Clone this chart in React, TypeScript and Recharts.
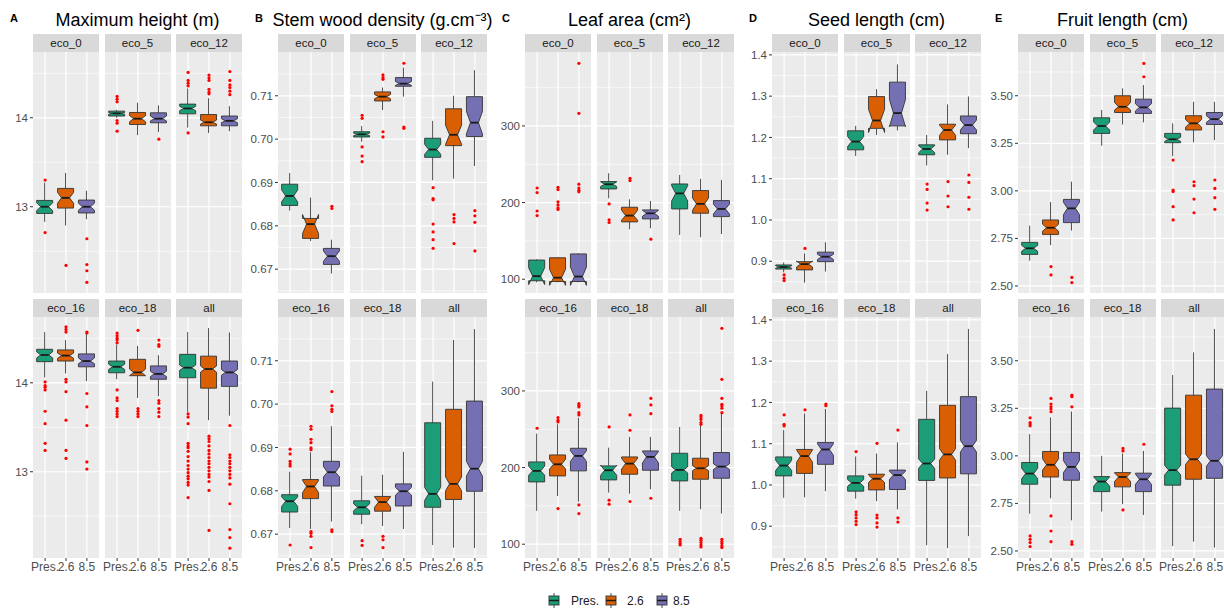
import { ComposedChart, Bar, Scatter, XAxis, YAxis, CartesianGrid } from "recharts";

const facets = ["eco_0", "eco_5", "eco_12", "eco_16", "eco_18", "all"];
const scenarios = ["Pres.", "2.6", "8.5"];
const colors = ["#1B9E77", "#D95F02", "#7570B3"];

// each box: [lower whisker, q1, median, q3, upper whisker, notch low, notch high]
const heightBoxes = [
  [[12.83, 12.925, 13.0, 13.071, 13.27, 12.955, 13.045], [12.79, 12.985, 13.1, 13.206, 13.38, 13.04, 13.16], [12.86, 12.93, 13.0, 13.075, 13.18, 12.96, 13.04]],
  [[14.0, 14.02, 14.05, 14.075, 14.09, 14.04, 14.06], [13.805, 13.925, 13.99, 14.06, 14.17, 13.955, 14.025], [13.84, 13.944, 13.99, 14.056, 14.14, 13.965, 14.02]],
  [[13.89, 14.045, 14.105, 14.154, 14.33, 14.08, 14.13], [13.83, 13.91, 13.95, 14.037, 14.22, 13.93, 13.975], [13.85, 13.91, 13.966, 14.02, 14.13, 13.945, 13.99]],
  [[14.06, 14.238, 14.313, 14.377, 14.57, 14.28, 14.35], [14.106, 14.245, 14.306, 14.37, 14.48, 14.275, 14.335], [14.02, 14.18, 14.245, 14.325, 14.566, 14.215, 14.28]],
  [[14.04, 14.113, 14.18, 14.245, 14.43, 14.15, 14.21], [13.83, 14.08, 14.117, 14.264, 14.415, 14.08, 14.155], [13.85, 14.04, 14.1, 14.19, 14.31, 14.07, 14.13]],
  [[13.67, 14.057, 14.17, 14.32, 14.57, 14.14, 14.2], [13.58, 13.94, 14.155, 14.3, 14.615, 14.12, 14.19], [13.63, 13.96, 14.117, 14.245, 14.566, 14.085, 14.15]],
];
const heightOutliers = [
  [[13.3, 12.71], [12.34], [12.64, 12.35, 12.28, 12.15]],
  [[14.24, 14.21, 14.18, 13.97, 13.94, 13.85], [], [13.76]],
  [[14.51, 14.42, 14.39, 14.36, 13.83], [14.48, 14.45, 14.42, 14.32, 14.29, 14.27], [14.52, 14.42, 14.37, 14.34, 14.3, 14.26]],
  [[14.01, 13.97, 13.95, 13.92, 13.68, 13.54, 13.32, 13.24], [14.63, 14.6, 14.57, 14.04, 14.01, 13.9, 13.58, 13.24, 13.15], [14.57, 14.56, 13.88, 13.73, 13.52, 13.11, 13.03]],
  [[14.56, 14.53, 14.5, 14.48, 14.45, 13.92, 13.83, 13.8, 13.71, 13.68, 13.65, 13.62], [14.59, 13.71, 13.68, 13.65, 13.62], [14.48, 14.43, 14.41, 13.8, 13.77, 13.71, 13.67, 13.62]],
  [
    [13.65, 13.615, 13.54, 13.32, 13.29, 13.27, 13.23, 13.17, 13.12, 13.07, 13.03, 12.99, 12.95, 12.92, 12.88, 12.85, 12.71],
    [13.4, 13.37, 13.34, 13.29, 13.24, 13.2, 13.16, 13.12, 13.09, 13.05, 13.01, 12.97, 12.94, 12.89, 12.79, 12.34],
    [13.52, 13.19, 13.16, 13.12, 13.09, 13.05, 13.01, 12.97, 12.93, 12.86, 12.64, 12.35, 12.26, 12.14],
  ],
];

const densityBoxes = [
  [[0.6835, 0.6847, 0.6869, 0.6896, 0.6922, 0.6855, 0.6883], [0.6765, 0.6771, 0.6804, 0.6817, 0.6865, 0.6782, 0.6826], [0.669, 0.6711, 0.673, 0.6748, 0.6768, 0.6718, 0.6742]],
  [[0.6994, 0.7005, 0.7011, 0.7017, 0.703, 0.7008, 0.7014], [0.7067, 0.7088, 0.7098, 0.7109, 0.7119, 0.7093, 0.7103], [0.7098, 0.7122, 0.7128, 0.7142, 0.7165, 0.7124, 0.7133]],
  [[0.6905, 0.6958, 0.6976, 0.7002, 0.7042, 0.6965, 0.6988], [0.6909, 0.6985, 0.701, 0.707, 0.71, 0.6988, 0.7032], [0.6938, 0.7006, 0.7038, 0.7098, 0.7159, 0.7012, 0.7064]],
  [[0.6714, 0.6751, 0.6776, 0.6791, 0.6844, 0.6764, 0.6786], [0.6712, 0.6782, 0.681, 0.6826, 0.6889, 0.6796, 0.6824], [0.6729, 0.6811, 0.6843, 0.6868, 0.6949, 0.6832, 0.6856]],
  [[0.6723, 0.6746, 0.6762, 0.6777, 0.6835, 0.6754, 0.677], [0.6719, 0.6753, 0.6774, 0.6787, 0.6837, 0.6762, 0.6786], [0.6712, 0.6765, 0.6799, 0.6816, 0.689, 0.679, 0.6808]],
  [[0.6675, 0.6762, 0.6793, 0.6957, 0.7052, 0.6778, 0.6808], [0.6669, 0.678, 0.6816, 0.6988, 0.7148, 0.68, 0.6832], [0.6668, 0.6799, 0.6851, 0.7007, 0.7173, 0.6834, 0.6868]],
];
const densityOutliers = [
  [[], [], [0.6845, 0.684]],
  [[0.7055, 0.7048, 0.6982, 0.6961, 0.6948], [0.7148, 0.7142, 0.7138, 0.7017, 0.7005], [0.7175, 0.7028, 0.7025]],
  [[0.6888, 0.6863, 0.686, 0.6804, 0.6786, 0.6768, 0.6748], [0.6826, 0.6817, 0.6809, 0.6759], [0.6835, 0.6823, 0.6808, 0.6742]],
  [[0.6896, 0.6885, 0.6868, 0.6862, 0.6857, 0.6675], [0.6949, 0.6942, 0.6919, 0.6911, 0.6899, 0.6895, 0.6706, 0.6702, 0.6695, 0.6669], [0.7029, 0.6996, 0.6988, 0.6983, 0.671, 0.6706]],
  [[0.6685, 0.6674], [0.6695, 0.6687, 0.6669], []],
  [[], [], []],
];

const leafBoxes = [
  [[96, 98, 104, 125, 126, 93, 115], [96, 97, 102, 128, 129, 92, 113], [96, 97, 103.5, 133, 134, 92, 116]],
  [[205.7, 217.8, 223.9, 227.4, 238.3, 221, 227], [165.2, 174.8, 183, 193.9, 204.3, 177, 190], [166.5, 178.7, 186, 190.4, 202.2, 182, 190]],
  [[157.8, 191.7, 212, 224.3, 236, 202, 222], [154.8, 186.1, 198.3, 215.7, 230.9, 190, 206], [159, 181.7, 191.7, 202.6, 229.6, 185, 198]],
  [[143.5, 181.3, 195.7, 207.4, 244.3, 190, 202], [163, 189.1, 204.3, 216.5, 256.5, 198, 211], [155.7, 195.7, 215.2, 225.2, 265, 208, 222]],
  [[167.4, 183.9, 196.5, 202.2, 226, 190, 203], [166, 191.3, 205.2, 213.9, 240, 198, 212], [171.7, 196.5, 213.9, 221.7, 240, 206, 221]],
  [[143.5, 182.6, 197, 218.7, 253, 193, 201], [145.7, 184.8, 199.1, 212.2, 264.3, 196, 202.5], [140, 186.1, 201.3, 219.6, 270.4, 197.5, 205]],
];
const leafOutliers = [
  [[219, 213, 189, 183], [220, 217, 201, 197, 193, 191], [381.7, 316.5, 224, 219, 216, 214]],
  [[198.3, 177.4, 174], [231.7, 228.7], [152.2]],
  [[], [], []],
  [[251.3], [265.2, 261.7, 259.6, 146.5], [283.5, 281.3, 279.1, 271.7, 268.7, 151.3, 140]],
  [[253, 157.4, 152.2], [268.7, 248.7, 155.7], [290.4, 281.7, 270.4, 160]],
  [[106.5, 103.5, 100.9, 99.1], [268, 266, 263, 258.7, 256.5, 107.8, 105.2, 102.2, 99.1, 96.5], [381.7, 315.2, 290.4, 282.6, 280.4, 277.4, 271.7, 106.5, 103.5, 100.9, 97.8, 95.6]],
];

const seedBoxes = [
  [[0.873, 0.881, 0.886, 0.891, 0.897, 0.883, 0.889], [0.848, 0.879, 0.893, 0.899, 0.919, 0.886, 0.9005], [0.875, 0.899, 0.911, 0.922, 0.946, 0.904, 0.917]],
  [[1.155, 1.17, 1.19, 1.216, 1.228, 1.178, 1.202], [1.206, 1.222, 1.241, 1.299, 1.317, 1.212, 1.268], [1.217, 1.228, 1.259, 1.334, 1.377, 1.226, 1.292]],
  [[1.132, 1.158, 1.172, 1.182, 1.206, 1.163, 1.18], [1.158, 1.194, 1.218, 1.232, 1.28, 1.205, 1.23], [1.174, 1.209, 1.23, 1.252, 1.299, 1.218, 1.242]],
  [[0.969, 1.022, 1.047, 1.068, 1.133, 1.035, 1.06], [0.97, 1.028, 1.07, 1.086, 1.173, 1.055, 1.085], [0.985, 1.05, 1.086, 1.103, 1.184, 1.072, 1.1]],
  [[0.967, 0.985, 1.005, 1.022, 1.069, 0.997, 1.013], [0.961, 0.988, 1.015, 1.026, 1.076, 1.006, 1.024], [0.941, 0.989, 1.024, 1.036, 1.103, 1.013, 1.033]],
  [[0.854, 1.011, 1.052, 1.159, 1.228, 1.04, 1.063], [0.847, 1.017, 1.074, 1.193, 1.317, 1.06, 1.088], [0.876, 1.027, 1.094, 1.214, 1.378, 1.08, 1.108]],
];
const seedOutliers = [
  [[0.867, 0.859, 0.853], [0.931], []],
  [[], [], []],
  [[1.087, 1.074, 1.041, 1.024], [1.093, 1.058, 1.032], [1.109, 1.091, 1.055, 1.026]],
  [[1.17, 1.147, 1.143], [1.182], [1.196, 1.192]],
  [[1.081, 0.935, 0.928, 0.92, 0.912, 0.904], [1.101, 0.927, 0.92, 0.908, 0.898], [1.133, 0.92, 0.91]],
  [[], [], []],
];

const fruitBoxes = [
  [[2.633, 2.666, 2.698, 2.729, 2.817, 2.682, 2.714], [2.715, 2.771, 2.806, 2.847, 2.941, 2.788, 2.825], [2.791, 2.833, 2.908, 2.955, 3.048, 2.875, 2.94]],
  [[3.237, 3.302, 3.341, 3.384, 3.425, 3.32, 3.362], [3.349, 3.412, 3.442, 3.5, 3.539, 3.425, 3.465], [3.36, 3.407, 3.439, 3.482, 3.556, 3.42, 3.458]],
  [[3.183, 3.253, 3.271, 3.302, 3.355, 3.26, 3.282], [3.255, 3.32, 3.355, 3.395, 3.468, 3.335, 3.375], [3.267, 3.349, 3.377, 3.412, 3.468, 3.36, 3.395]],
  [[2.696, 2.851, 2.907, 2.965, 3.114, 2.88, 2.935], [2.777, 2.889, 2.953, 3.023, 3.202, 2.925, 2.985], [2.661, 2.872, 2.942, 3.018, 3.233, 2.912, 2.975]],
  [[2.707, 2.812, 2.865, 2.891, 3.0, 2.84, 2.89], [2.746, 2.837, 2.889, 2.912, 3.012, 2.865, 2.91], [2.689, 2.812, 2.877, 2.909, 3.026, 2.85, 2.905]],
  [[2.526, 2.846, 2.925, 3.251, 3.425, 2.9, 2.95], [2.549, 2.877, 2.982, 3.319, 3.544, 2.955, 3.01], [2.518, 2.882, 2.974, 3.351, 3.667, 2.945, 3.0]],
];
const fruitOutliers = [
  [[], [2.602, 2.558], [2.545, 2.518]],
  [[], [], [3.67, 3.6]],
  [[3.162, 3.004, 2.996, 2.917, 2.847], [3.048, 3.027, 2.957, 2.885], [3.057, 3.013, 2.964, 2.903]],
  [[3.2, 3.175, 3.167, 3.158, 2.579, 2.561, 2.544, 2.523], [3.302, 3.272, 3.258, 3.246, 3.232, 2.684, 2.605, 2.549], [3.319, 3.311, 3.258, 2.549, 2.535]],
  [[], [3.039, 3.026, 2.716], [3.061]],
  [[], [], []],
];

const panels = [
  { letter: "A", title: "Maximum height (m)", boxes: heightBoxes, outliers: heightOutliers, domain: [12.03, 14.74], ticks: [13, 14], minor: [12.5, 13.5, 14.5], digits: 0, x0: 33 },
  { letter: "B", title: "Stem wood density (g.cm\u207B\u00B3)", boxes: densityBoxes, outliers: densityOutliers, domain: [0.6645, 0.7201], ticks: [0.67, 0.68, 0.69, 0.7, 0.71], minor: [0.665, 0.675, 0.685, 0.695, 0.705, 0.715], digits: 2, x0: 278 },
  { letter: "C", title: "Leaf area (cm\u00B2)", boxes: leafBoxes, outliers: leafOutliers, domain: [82, 396.5], ticks: [100, 200, 300], minor: [150, 250, 350], digits: 0, x0: 525 },
  { letter: "D", title: "Seed length (cm)", boxes: seedBoxes, outliers: seedOutliers, domain: [0.823, 1.407], ticks: [0.9, 1.0, 1.1, 1.2, 1.3, 1.4], minor: [0.85, 0.95, 1.05, 1.15, 1.25, 1.35], digits: 1, x0: 772 },
  { letter: "E", title: "Fruit length (cm)", boxes: fruitBoxes, outliers: fruitOutliers, domain: [2.463, 3.73], ticks: [2.5, 2.75, 3.0, 3.25, 3.5], minor: [2.625, 2.875, 3.125, 3.375, 3.625], digits: 2, x0: 1018 },
];

const FONT = '"Liberation Sans", Arial, Helvetica, sans-serif';
const PLOT_W = 66;
const PLOT_H = 241;
const PITCH = 71.5;
const YW = 40;
const ROW_Y = [52, 317];

function BoxShape(props: any) {
  const { x, y, width, height, payload } = props;
  const [lo, q1, med, q3, hi, nlo, nhi] = payload.s;
  const top = Math.min(y, y + height);
  const bot = Math.max(y, y + height);
  const py = (v: number) => bot - ((v - lo) / (hi - lo)) * (bot - top);
  const xl = x;
  const xr = x + width;
  const cx = x + width / 2;
  const ind = width * 0.25;
  const pts = [
    [xl, py(q3)], [xl, py(nhi)], [xl + ind, py(med)], [xl, py(nlo)], [xl, py(q1)],
    [xr, py(q1)], [xr, py(nlo)], [xr - ind, py(med)], [xr, py(nhi)], [xr, py(q3)],
  ].map((p) => p.join(",")).join(" ");
  return (
    <g>
      <line x1={cx} x2={cx} y1={py(hi)} y2={py(q3)} stroke="#4D4D4D" strokeWidth={1} />
      <line x1={cx} x2={cx} y1={py(q1)} y2={py(lo)} stroke="#4D4D4D" strokeWidth={1} />
      <polygon points={pts} fill={payload.color} stroke="#333333" strokeWidth={0.9} />
      <line x1={xl + ind} x2={xr - ind} y1={py(med)} y2={py(med)} stroke="#1A1A1A" strokeWidth={1.8} />
    </g>
  );
}

function Dot(props: any) {
  return <circle cx={props.cx} cy={props.cy} r={1.6} fill="#FF0000" />;
}

function Facet({ panel, f }: { panel: any; f: number }) {
  const row = f < 3 ? 0 : 1;
  const col = f % 3;
  const plotX = panel.x0 + col * PITCH;
  const plotY = ROW_Y[row];
  const yw = col === 0 ? YW : 0;
  const xh = row === 1 ? 22 : 0;
  const data = scenarios.map((sc, i) => {
    const s = panel.boxes[f][i];
    return { x: i + 1, range: [s[0], s[4]], s, color: colors[i] };
  });
  const outs: { x: number; v: number }[] = [];
  panel.outliers[f].forEach((vals: number[], i: number) => vals.forEach((v) => outs.push({ x: i + 1, v })));
  return (
    <>
      <div
        style={{
          position: "absolute", left: plotX, top: plotY - 18, width: PLOT_W, height: 18,
          background: "#D9D9D9", color: "#1A1A1A", fontSize: 11.5, lineHeight: "18px", textAlign: "center",
        }}
      >
        {facets[f]}
      </div>
      <div style={{ position: "absolute", left: plotX - yw, top: plotY }}>
        <ComposedChart width={PLOT_W + yw} height={PLOT_H + xh} data={data} margin={{ top: 0, right: 0, bottom: 0, left: 0 }}>
          <CartesianGrid fill="#EBEBEB" stroke="#FFFFFF" strokeWidth={0.6} vertical={false} horizontalValues={panel.minor} />
          <CartesianGrid stroke="#FFFFFF" strokeWidth={1.2} horizontalValues={panel.ticks} verticalValues={[1, 2, 3]} />
          <XAxis
            dataKey="x" type="number" domain={[0.42, 3.58]} allowDataOverflow ticks={[1, 2, 3]} interval={0}
            tickFormatter={(v: number) => scenarios[v - 1]} hide={row === 0} height={22}
            axisLine={false} tickSize={3} tickMargin={1} tickLine={{ stroke: "#333333" }}
            tick={{ fontSize: 12, fill: "#4D4D4D", fontFamily: FONT }}
          />
          <YAxis
            type="number" domain={panel.domain} allowDataOverflow ticks={panel.ticks} interval={0}
            tickFormatter={(v: number) => v.toFixed(panel.digits)} hide={col !== 0} width={YW}
            axisLine={false} tickSize={3} tickMargin={2} tickLine={{ stroke: "#333333" }}
            tick={{ fontSize: 11.5, fill: "#4D4D4D", fontFamily: FONT }}
          />
          {outs.length > 0 && <Scatter data={outs} dataKey="v" shape={Dot} isAnimationActive={false} />}
          <Bar dataKey="range" barSize={16} shape={BoxShape} isAnimationActive={false} />
        </ComposedChart>
      </div>
    </>
  );
}

function Legend() {
  const items = [
    { cx: 554, tx: 571 },
    { cx: 611, tx: 627 },
    { cx: 662, tx: 673 },
  ];
  return (
    <svg style={{ position: "absolute", left: 0, top: 590 }} width={1224} height={18}>
      {items.map((it, i) => (
        <g key={i}>
          <line x1={it.cx} x2={it.cx} y1={3} y2={19} stroke="#4D4D4D" />
          <rect x={it.cx - 5} y={6} width={10} height={9} fill={colors[i]} stroke="#333333" strokeWidth={0.9} />
          <line x1={it.cx - 5} x2={it.cx + 5} y1={10.5} y2={10.5} stroke="#1A1A1A" strokeWidth={1.5} />
          <text x={it.tx} y={15} fontSize={12} fill="#1A1A1A" fontFamily={FONT}>
            {scenarios[i]}
          </text>
        </g>
      ))}
    </svg>
  );
}

export default function App() {
  return (
    <div style={{ position: "absolute", left: 0, top: 0, width: 1224, height: 608, background: "#FFFFFF", fontFamily: FONT, overflow: "hidden" }}>
      <style>{".recharts-surface { overflow: visible; } .recharts-wrapper { overflow: visible; }"}</style>
      {panels.map((p) => (
        <div key={p.letter}>
          <div style={{ position: "absolute", left: p.x0 - 23, top: 12, fontSize: 11, fontWeight: "bold", lineHeight: "12px" }}>
            {p.letter}
          </div>
          <div style={{ position: "absolute", left: p.x0 + 104.5 - 150, width: 300, top: 8, fontSize: 18, lineHeight: "24px", textAlign: "center", color: "#000" }}>
            {p.title}
          </div>
          {facets.map((_, f) => (
            <Facet key={f} panel={p} f={f} />
          ))}
        </div>
      ))}
      <Legend />
    </div>
  );
}
